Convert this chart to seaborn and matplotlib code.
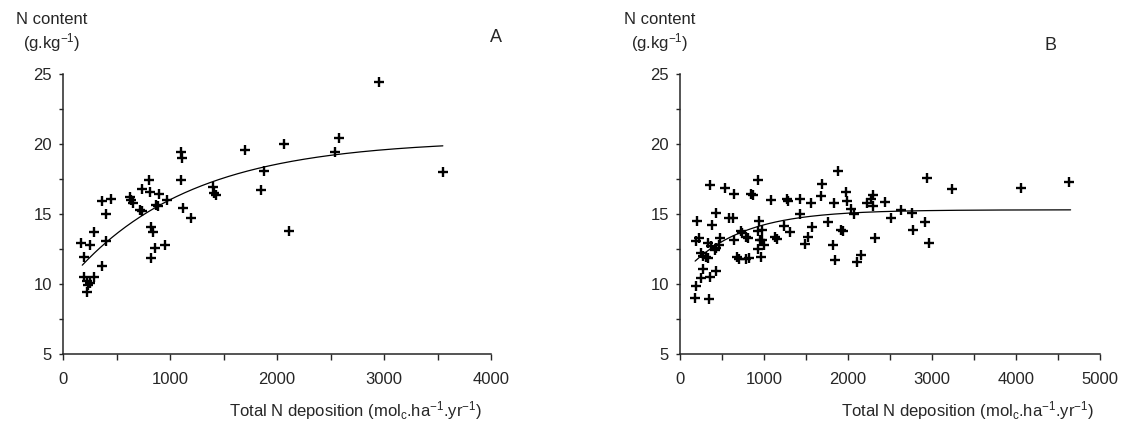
import numpy as np
import pandas as pd
import matplotlib.pyplot as plt
import seaborn as sns
from matplotlib.ticker import MultipleLocator

# panel A : N content vs total N deposition
a_dep = [169, 250, 200, 288, 363, 450, 406, 406, 363, 200, 288, 225, 250, 238, 225,
         625, 638, 656, 734, 813, 800, 900, 969, 719, 741, 866, 888, 819, 844, 859,
         950, 819, 1100, 1125, 1200, 1100, 1110, 1400, 1410, 1430, 1700, 1850, 1880,
         2070, 2110, 2540, 2580, 2950, 3550]
a_n = [12.9, 12.8, 11.95, 13.7, 15.9, 16.1, 15.0, 13.1, 11.3, 10.5, 10.5, 10.2, 10.05, 9.9, 9.45,
       16.2, 16.0, 15.8, 16.8, 16.6, 17.4, 16.4, 16.0, 15.3, 15.2, 15.65, 15.6, 14.1, 13.7, 12.55,
       12.75, 11.85, 17.4, 15.45, 14.7, 19.4, 19.0, 16.9, 16.5, 16.35, 19.6, 16.7, 18.1,
       20.0, 13.8, 19.4, 20.4, 24.4, 18.0]

# panel B
b_dep = [357, 539, 643, 926, 849, 868, 1078, 1275, 1287, 1426, 1554, 1694, 1682, 1829,
         202, 426, 384, 589, 636, 938, 1434, 1767, 1240, 1306, 186, 225, 248, 271, 306, 333,
         333, 372, 411, 434, 461, 481, 643, 721, 736, 791, 810, 926, 977, 953, 977, 1004,
         926, 1132, 1159, 1488, 1527, 1574, 1826, 682, 705, 791, 818, 965,
         279, 248, 357, 434, 194, 178, 345,
         1884, 1981, 1992, 2031, 2070, 1920, 1940, 1849, 2155, 2109, 2225, 2271, 2302, 2295,
         2438, 2326, 2515, 2632, 2767, 2775, 2915, 2969, 2942, 3233, 4055, 4636]
b_n = [17.1, 16.85, 16.45, 17.4, 16.4, 16.35, 16.0, 16.05, 15.95, 16.05, 15.8, 17.15, 16.3, 15.8,
       14.5, 15.05, 14.2, 14.7, 14.7, 14.5, 14.98, 14.45, 14.15, 13.7, 13.05, 13.25, 12.2, 12.0, 11.95, 11.85,
       12.9, 12.7, 12.45, 12.55, 12.8, 13.3, 13.15, 13.75, 13.65, 13.35, 13.3, 13.8, 13.85, 13.15, 13.15, 12.8,
       12.5, 13.35, 13.2, 12.85, 13.35, 14.1, 12.75, 11.9, 11.8, 11.8, 11.85, 11.95,
       11.05, 10.4, 10.5, 10.95, 9.85, 9.0, 8.9,
       18.05, 16.55, 15.9, 15.35, 15.0, 13.85, 13.8, 11.75, 12.1, 11.55, 15.75, 16.05, 16.35, 15.6,
       15.85, 13.25, 14.7, 15.25, 15.1, 13.85, 14.4, 12.9, 17.6, 16.8, 16.85, 17.25]

# fitted curves y = top - drop * exp(-rate * x)
a_fit = dict(top=20.3, drop=10.53, rate=0.0009, lo=180, hi=3550)
b_fit = dict(top=15.3, drop=4.8, rate=0.0015, lo=180, hi=4650)

sns.set_style("ticks")
plt.rcParams['font.family'] = ['Liberation Sans', 'DejaVu Sans']
plt.rcParams['mathtext.fontset'] = 'custom'
plt.rcParams['mathtext.rm'] = 'Liberation Sans'
plt.rcParams['mathtext.it'] = 'Liberation Sans'

W, H = 1131, 423
FS = 12
fig = plt.figure(figsize=(W / 100, H / 100), dpi=100)


def panel(left, right, dep, n, fit, xmax, letter, letter_xy, lab_x, title_x):
    ax = fig.add_axes([left / W, (H - 354) / H, (right - left) / W, (354 - 74) / H])
    sns.scatterplot(x=dep, y=n, marker='+', color='black', s=45, linewidth=1.7, ax=ax,
                    clip_on=False, zorder=3)
    xs = np.linspace(fit['lo'], fit['hi'], 300)
    curve = pd.DataFrame({'x': xs, 'y': fit['top'] - fit['drop'] * np.exp(-fit['rate'] * xs)})
    sns.lineplot(data=curve, x='x', y='y', color='black', linewidth=0.9, ax=ax)
    ax.set_xlim(0, xmax)
    ax.set_ylim(5, 25)
    ax.xaxis.set_major_locator(MultipleLocator(1000))
    ax.xaxis.set_minor_locator(MultipleLocator(500))
    ax.yaxis.set_major_locator(MultipleLocator(5))
    ax.yaxis.set_minor_locator(MultipleLocator(2.5))
    ax.tick_params(axis='x', which='both', direction='out', length=4, width=1, pad=9,
                   labelsize=FS)
    ax.tick_params(axis='y', which='both', direction='out', length=3, width=1, pad=5,
                   labelsize=FS)
    ax.set_xlabel('')
    ax.set_ylabel('')
    for s in ['left', 'bottom']:
        ax.spines[s].set_linewidth(1.1)
    sns.despine(ax=ax)
    fig.text(lab_x / W, 1 - 20 / H, 'N content', ha='center', va='center', fontsize=FS)
    fig.text(lab_x / W, 1 - 43 / H, '(g.kg$^{\\mathregular{-1}}$)', ha='center', va='center',
             fontsize=FS)
    fig.text(letter_xy[0] / W, 1 - letter_xy[1] / H, letter, ha='center', va='center',
             fontsize=13)
    fig.text(title_x / W, 1 - 411 / H,
             'Total N deposition (mol$_{\\mathregular{c}}$.ha$^{\\mathregular{-1}}$.yr$^{\\mathregular{-1}}$)',
             ha='center', va='center', fontsize=FS)
    return ax


panel(63, 491, a_dep, a_n, a_fit, 4000, 'A', (496, 37), 52, 356)
panel(680, 1100, b_dep, b_n, b_fit, 5000, 'B', (1050, 45), 660, 968)

fig.savefig('out.png', dpi=100)
